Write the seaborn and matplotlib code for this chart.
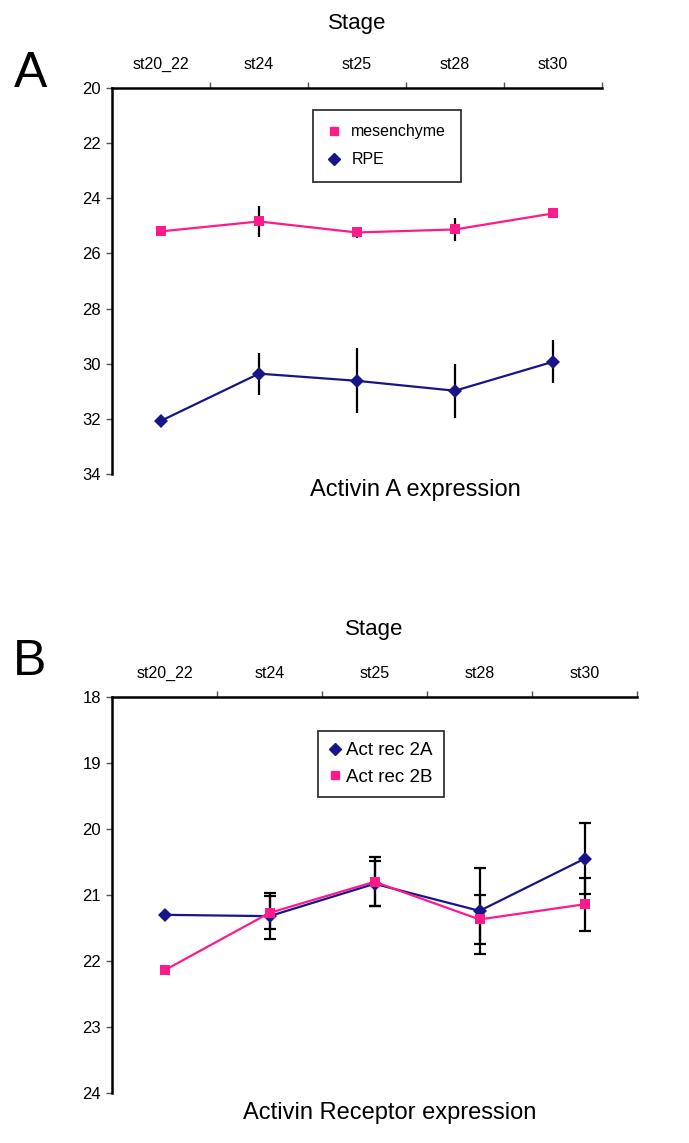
"""Activin A and Activin receptor expression across stages (two panels)."""

import matplotlib
matplotlib.use("Agg")
import matplotlib.pyplot as plt
from matplotlib.lines import Line2D
from matplotlib.ticker import FixedLocator
import numpy as np
import pandas as pd
import seaborn as sns

stages = ["st20_22", "st24", "st25", "st28", "st30"]

# panel A: Activin A
mes_vals = [25.2, 24.84, 25.24, 25.13, 24.55]
mes_err = [0.0, 0.55, 0.2, 0.43, 0.0]
rpe_vals = [32.07, 30.36, 30.62, 30.98, 29.93]
rpe_err = [0.0, 0.76, 1.18, 0.98, 0.78]

# panel B: receptors
rec2a_vals = [21.3, 21.32, 20.83, 21.24, 20.45]
rec2a_err = [0.0, 0.35, 0.34, 0.65, 0.54]
rec2b_vals = [22.14, 21.27, 20.8, 21.37, 21.14]
rec2b_err = [0.0, 0.25, 0.37, 0.37, 0.4]

PINK = "#ff1a8c"
NAVY = "#16168a"

sns.set_theme(style="white")
plt.rcParams["font.family"] = ["Liberation Sans", "DejaVu Sans"]
plt.rcParams["text.color"] = "black"
plt.rcParams["axes.labelcolor"] = "black"


def make_frame(series: dict) -> pd.DataFrame:
    rows = []
    for name, (vals, errs) in series.items():
        for i, (v, e) in enumerate(zip(vals, errs)):
            rows.append({"pos": i, "stage": stages[i], "series": name, "value": v, "err": e})
    return pd.DataFrame(rows)


def draw_panel(ax, df, palette, markers, capsize, ylim, yticks, stage_pad):
    # error bars first so the markers sit on top
    for name, grp in df.groupby("series", sort=False):
        grp = grp[grp["err"] > 0]
        ax.errorbar(grp["pos"], grp["value"], yerr=grp["err"], fmt="none",
                    ecolor="black", elinewidth=1.6, capsize=capsize, capthick=1.6, zorder=2)
    sns.lineplot(data=df, x="pos", y="value", hue="series", style="series",
                 palette=palette, markers=markers, dashes=False, sort=False,
                 linewidth=1.6, markersize=7, markeredgewidth=0, legend=False,
                 ax=ax, zorder=3)

    ax.set_xlim(-0.5, len(stages) - 0.5)
    ax.set_ylim(*ylim)
    ax.set_yticks(yticks)
    ax.xaxis.set_ticks_position("top")
    ax.xaxis.set_label_position("top")
    ax.set_xticks(range(len(stages)))
    ax.set_xticklabels(stages, va="baseline")
    ax.xaxis.set_minor_locator(FixedLocator(np.arange(len(stages)) + 0.5))
    ax.tick_params(axis="x", which="major", length=0, pad=14, labelsize=11.5, labelcolor="black")
    ax.tick_params(axis="x", which="minor", top=True, length=4, width=1, color="#555555", direction="out")
    ax.tick_params(axis="y", left=True, length=4, width=1, color="#555555", direction="out",
                   labelsize=12, pad=4, labelcolor="black")
    for side in ("right", "bottom"):
        ax.spines[side].set_visible(False)
    for side in ("left", "top"):
        ax.spines[side].set_color("black")
        ax.spines[side].set_linewidth(1.8)
    ax.set_ylabel("")
    ax.set_xlabel("Stage", fontsize=16, labelpad=stage_pad)


fig = plt.figure(figsize=(6.89, 11.43), dpi=100)

ax_a = fig.add_axes([0.1626, 0.5853, 0.711, 0.3377])
df_a = make_frame({"mesenchyme": (mes_vals, mes_err), "RPE": (rpe_vals, rpe_err)})
draw_panel(ax_a, df_a, {"mesenchyme": PINK, "RPE": NAVY}, {"mesenchyme": "s", "RPE": "D"},
           0, (34, 20), range(20, 35, 2), 20)

ax_b = fig.add_axes([0.1626, 0.0437, 0.762, 0.3465])
df_b = make_frame({"Act rec 2A": (rec2a_vals, rec2a_err), "Act rec 2B": (rec2b_vals, rec2b_err)})
draw_panel(ax_b, df_b, {"Act rec 2A": NAVY, "Act rec 2B": PINK}, {"Act rec 2A": "D", "Act rec 2B": "s"},
           4, (24, 18), range(18, 25), 22)

# legends: markers only, square frame
leg_a = ax_a.legend(
    handles=[Line2D([], [], ls="none", marker="s", color=PINK, markersize=6),
             Line2D([], [], ls="none", marker="D", color=NAVY, markersize=6)],
    labels=["mesenchyme", "RPE"], loc="upper left",
    bbox_to_anchor=(313 / 689, 1 - 110 / 1143), bbox_transform=fig.transFigure,
    fontsize=11.5, frameon=True, fancybox=False, handlelength=0.8, handletextpad=0.7,
    borderpad=0.9, labelspacing=0.8, borderaxespad=0)
leg_a.get_frame().set_edgecolor("black")
leg_a.get_frame().set_linewidth(1.3)

leg_b = ax_b.legend(
    handles=[Line2D([], [], ls="none", marker="D", color=NAVY, markersize=6),
             Line2D([], [], ls="none", marker="s", color=PINK, markersize=6)],
    labels=["Act rec 2A", "Act rec 2B"], loc="upper left",
    bbox_to_anchor=(318 / 689, 1 - 731 / 1143), bbox_transform=fig.transFigure,
    fontsize=13.5, frameon=True, fancybox=False, handlelength=0.6, handletextpad=0.3,
    borderpad=0.6, labelspacing=0.5, borderaxespad=0)
leg_b.get_frame().set_edgecolor("black")
leg_b.get_frame().set_linewidth(1.3)

fig.text(415 / 689, 1 - 490 / 1143, "Activin A expression", fontsize=17, ha="center", va="center")
fig.text(243 / 689, 1 - 1113 / 1143, "Activin Receptor expression", fontsize=17, ha="left", va="center")
fig.text(31 / 689, 1 - 74 / 1143, "A", fontsize=36, ha="center", va="center")
fig.text(30 / 689, 1 - 662 / 1143, "B", fontsize=36, ha="center", va="center")

fig.savefig("out.png", dpi=100, facecolor="white")
